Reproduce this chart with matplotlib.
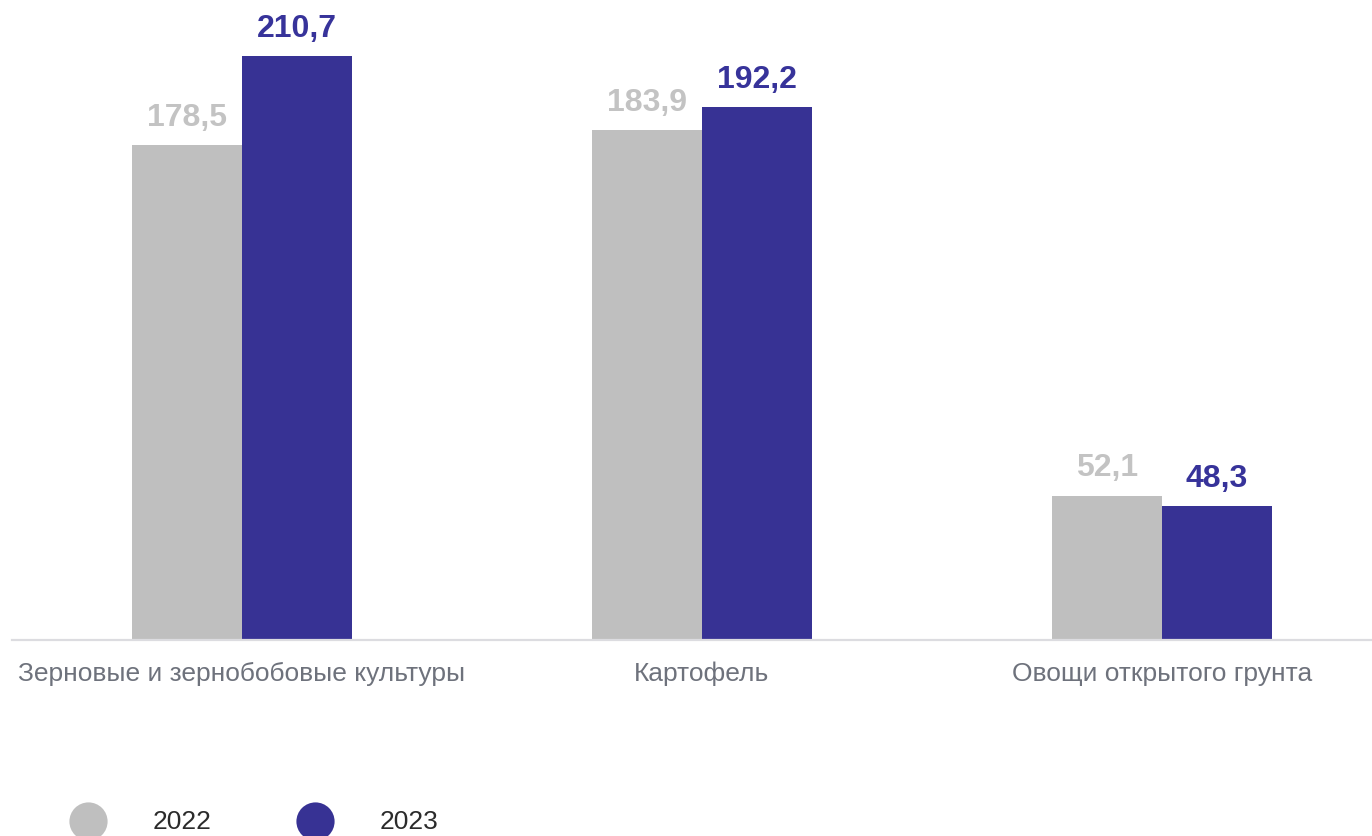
import matplotlib
matplotlib.use("Agg")
import matplotlib.pyplot as plt
from matplotlib.lines import Line2D
import numpy as np

categories = ["Зерновые и зернобобовые культуры", "Картофель", "Овощи открытого грунта"]
years = ["2022", "2023"]
values_2022 = [178.5, 183.9, 52.1]
values_2023 = [210.7, 192.2, 48.3]

GRAY = "#bfbfbf"
BLUE = "#373294"
GRAY_TXT = "#c3c3c3"
BLUE_TXT = "#37339a"

plt.rcParams["font.family"] = ["Liberation Sans", "DejaVu Sans"]

W, H = 1372, 837
fig = plt.figure(figsize=(W / 100, H / 100), dpi=100)
# axes spans from x=12 px to right edge, from bottom line at y=641 px to top
ax = fig.add_axes([12 / W, (H - 641) / H, 1 - 12 / W, 641 / H])

x = np.arange(len(categories))
width = 0.239
b1 = ax.bar(x - width / 2, values_2022, width, color=GRAY, linewidth=0)
b2 = ax.bar(x + width / 2, values_2023, width, color=BLUE, linewidth=0)

ax.set_xlim(-0.5, 2.457)
ax.set_ylim(0, 231.2)


def fmt(v):
    return f"{v:.1f}".replace(".", ",")


for rects, color in ((b1, GRAY_TXT), (b2, BLUE_TXT)):
    for r in rects:
        ax.annotate(fmt(r.get_height()),
                    (r.get_x() + r.get_width() / 2, r.get_height()),
                    xytext=(0, 9.5), textcoords="offset points",
                    ha="center", va="bottom", fontsize=23,
                    fontweight="bold", color=color)

for s in ["top", "right", "left"]:
    ax.spines[s].set_visible(False)
ax.spines["bottom"].set_color("#dcdce0")
ax.spines["bottom"].set_linewidth(1.6)
ax.set_yticks([])
ax.set_xticks(x)
ax.set_xticklabels(categories, fontsize=19, color="#6e727c")
ax.tick_params(axis="x", length=0, pad=15)

# legend drawn manually at the bottom
leg_y = 1 - 822 / H
for cx, tx, label, color in ((88, 153, years[0], GRAY), (315, 380, years[1], BLUE)):
    fig.add_artist(Line2D([cx / W], [leg_y], marker="o", markersize=27.5,
                          color=color, markeredgewidth=0, linestyle="none",
                          transform=fig.transFigure))
    fig.text(tx / W, leg_y, label, fontsize=19, color="#2b2b2b",
             ha="left", va="center")

fig.savefig("out.png", dpi=100)
